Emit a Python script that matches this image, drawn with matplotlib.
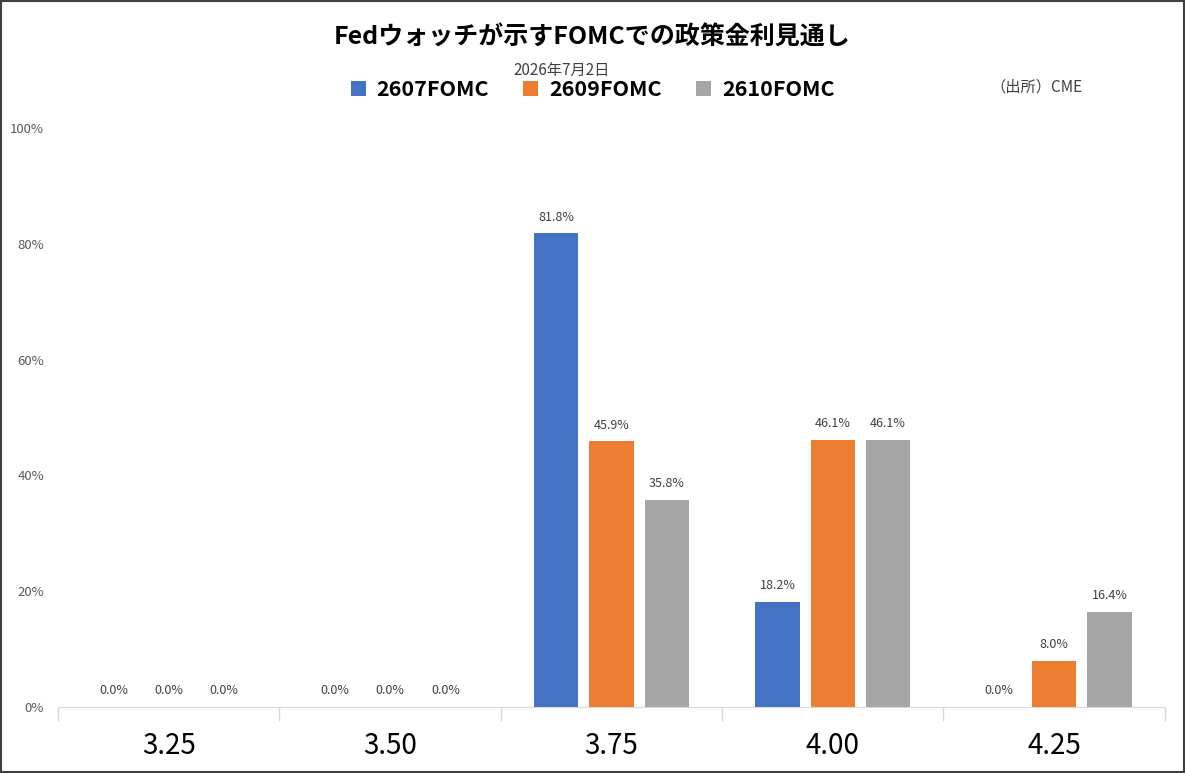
import matplotlib.pyplot as plt
from matplotlib.patches import Rectangle
from matplotlib.ticker import FixedLocator, PercentFormatter
import numpy as np

plt.rcParams['font.family'] = ['Noto Sans CJK JP', 'DejaVu Sans']

# Data
rates = ['3.25', '3.50', '3.75', '4.00', '4.25']
series_names = ['2607FOMC', '2609FOMC', '2610FOMC']
fomc_2607 = [0.0, 0.0, 81.8, 18.2, 0.0]
fomc_2609 = [0.0, 0.0, 45.9, 46.1, 8.0]
fomc_2610 = [0.0, 0.0, 35.8, 46.1, 16.4]
colors = ['#4472C4', '#ED7D31', '#A5A5A5']

title = 'Fedウォッチが示すFOMCでの政策金利見通し'
date_text = '2026年7月2日'
source_text = '（出所）CME'

# Skeleton
fig = plt.figure(figsize=(11.85, 7.73), dpi=100)
ax = fig.add_axes([0.049, 0.0854, 0.934, 0.7490])

x = np.arange(len(rates))
bar_w = 0.2
offsets = [-0.25, 0.0, 0.25]
for vals, name, col, off in zip([fomc_2607, fomc_2609, fomc_2610], series_names, colors, offsets):
    bars = ax.bar(x + off, vals, width=bar_w, color=col, label=name)
    for b, v in zip(bars, vals):
        ax.annotate(f'{v:.1f}%', (b.get_x() + b.get_width() / 2, v),
                    xytext=(0, 7), textcoords='offset points',
                    ha='center', va='bottom', fontsize=9, color='#404040')

ax.set_xlim(-0.5, len(rates) - 0.5)
ax.set_ylim(0, 100)
ax.yaxis.set_major_locator(FixedLocator([0, 20, 40, 60, 80, 100]))
ax.yaxis.set_major_formatter(PercentFormatter(decimals=0))
ax.tick_params(axis='y', length=0, pad=10, labelsize=9.5, labelcolor='#595959')

# category ticks: boundaries as major, labels at centres
ax.xaxis.set_major_locator(FixedLocator(np.arange(-0.5, len(rates), 1.0)))
ax.xaxis.set_minor_locator(FixedLocator(x))
ax.set_xticklabels([], minor=False)
ax.set_xticklabels(rates, minor=True)
ax.tick_params(axis='x', which='major', length=10, color='#D9D9D9', width=1)
ax.tick_params(axis='x', which='minor', length=0, pad=17, labelsize=20, labelcolor='black')

for s in ['top', 'right', 'left']:
    ax.spines[s].set_visible(False)
ax.spines['bottom'].set_color('#D9D9D9')

# Titles and legend
fig.text(0.5, 0.951, title, ha='center', va='center', fontsize=18, fontweight='bold')
fig.text(0.474, 0.909, date_text, ha='center', va='center', fontsize=11, color='#404040')
fig.text(0.875, 0.887, source_text, ha='center', va='center', fontsize=11, color='#404040')
leg = fig.legend(loc='center', bbox_to_anchor=(0.5, 0.884), ncol=3, frameon=False,
                 prop={'size': 15.5, 'weight': 'bold'}, handlelength=0.7, handleheight=0.7,
                 columnspacing=1.6, handletextpad=0.5)

# Outer frame
fig.patches.append(Rectangle((0.001, 0.001), 0.998, 0.998, transform=fig.transFigure,
                             fill=False, edgecolor='#404040', linewidth=1.5))

fig.savefig('out.png', dpi=100)
